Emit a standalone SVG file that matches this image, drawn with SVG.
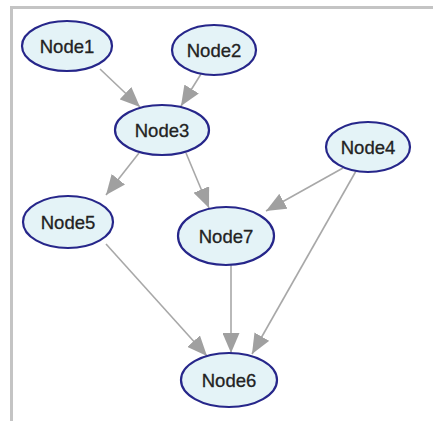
<svg xmlns="http://www.w3.org/2000/svg" width="440" height="421" viewBox="0 0 440 421">
<style>
.n ellipse{fill:#e4f3f7;stroke:#26268a;stroke-width:2.2}
.n text{font-family:"Liberation Sans",Arial,sans-serif;font-size:18.5px;fill:#222222;stroke:#222222;stroke-width:0.3;text-anchor:middle;dominant-baseline:central}
.e line{stroke:#a8a8a8;stroke-width:1.6}
</style>
<defs>
<marker id="ah" markerWidth="20" markerHeight="17" refX="20" refY="8.5" orient="auto" markerUnits="userSpaceOnUse">
<path d="M0,0 L20,8.5 L0,17 z" fill="#a0a0a0"/>
</marker>
</defs>
<rect width="440" height="421" fill="#ffffff"/>
<path d="M11.5,421 V7.5 H433" fill="none" stroke="#c4c4c4" stroke-width="3"/>
<g id="edges" class="e">
<line x1="100" y1="69" x2="140" y2="107" marker-end="url(#ah)"/>
<line x1="201" y1="74" x2="181" y2="106" marker-end="url(#ah)"/>
<line x1="139" y1="153" x2="106" y2="195" marker-end="url(#ah)"/>
<line x1="186" y1="153" x2="209" y2="208" marker-end="url(#ah)"/>
<line x1="343" y1="168" x2="266" y2="211" marker-end="url(#ah)"/>
<line x1="356" y1="171" x2="252" y2="354" marker-end="url(#ah)"/>
<line x1="106" y1="244" x2="207" y2="356" marker-end="url(#ah)"/>
<line x1="231" y1="265" x2="231" y2="353" marker-end="url(#ah)"/>
</g>
<g id="Node1" class="n"><ellipse cx="67" cy="46" rx="45" ry="25"/><text x="67" y="46">Node1</text></g>
<g id="Node2" class="n"><ellipse cx="214" cy="50" rx="42" ry="25"/><text x="214" y="50">Node2</text></g>
<g id="Node3" class="n"><ellipse cx="162" cy="130" rx="47" ry="25"/><text x="162" y="130">Node3</text></g>
<g id="Node4" class="n"><ellipse cx="368" cy="147" rx="42" ry="25"/><text x="368" y="147">Node4</text></g>
<g id="Node5" class="n"><ellipse cx="68" cy="222" rx="45" ry="26"/><text x="68" y="222">Node5</text></g>
<g id="Node7" class="n"><ellipse cx="226" cy="236" rx="48" ry="29"/><text x="226" y="236">Node7</text></g>
<g id="Node6" class="n"><ellipse cx="229" cy="380" rx="48" ry="27"/><text x="229" y="380">Node6</text></g>
</svg>
